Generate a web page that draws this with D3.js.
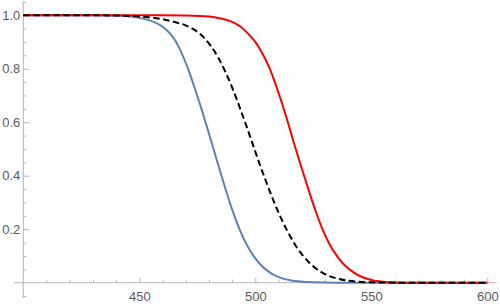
<!DOCTYPE html>
<html><head><meta charset="utf-8">
<script src="https://cdn.jsdelivr.net/npm/d3@7"></script>
<style>
html,body{margin:0;padding:0;background:#fff;}
svg{display:block;}
</style>
</head><body>
<svg id="chart" width="500" height="307"></svg>
<script>
// ---- data ----
const blueX = [400,430,440,445,450,455,459,462,465,468,471,474,477,480,482,484,487,490,493,496,499,502,505,508,511,515,520,525,535,560,600];
const blueY = [1,0.9995,0.998,0.996,0.99,0.979,0.963,0.943,0.912,0.863,0.8,0.724,0.644,0.558,0.50,0.441,0.355,0.274,0.204,0.147,0.103,0.07,0.046,0.029,0.018,0.009,0.0035,0.0013,0.0002,0,0];

const redX = [400,460,470,480,485,490,494,497,500,503,506,508,510,513,517,520,523,526,529,532,535,538,541,545,550,555,560,570,600];
const redY = [1,1,0.999,0.995,0.988,0.975,0.955,0.93,0.9,0.858,0.805,0.76,0.71,0.63,0.512,0.428,0.346,0.268,0.199,0.144,0.102,0.07,0.047,0.025,0.01,0.0035,0.0012,0.0002,0];

const blackX = [400,430,440,450,460,465,470,474,478,481,484,487,490,493,496,499,502,505,508,511,514,517,520,523,526,530,535,540,545,550,560,600];
const blackY = [1,0.9995,0.999,0.995,0.985,0.975,0.962,0.944,0.915,0.883,0.842,0.79,0.73,0.662,0.59,0.515,0.44,0.37,0.303,0.243,0.19,0.144,0.107,0.077,0.054,0.032,0.016,0.0075,0.0033,0.0013,0.0002,0];

const xMajorTicks = [450,500,550,600];
const xMinorTicks = [410,420,430,440,460,470,480,490,510,520,530,540,560,570,580,590];
const yMajorTicks = [0.2,0.4,0.6,0.8,1.0];
const yMinorTicks = [-0.05,0.05,0.1,0.15,0.25,0.3,0.35,0.45,0.5,0.55,0.65,0.7,0.75,0.85,0.9,0.95,1.05];
const xAxisExtent = [396,604];
const yAxisExtent = [-0.057,1.052];

// ---- drawing ----
const svg = d3.select("#chart");
const x = d3.scaleLinear().domain([400,600]).range([23.3,487.3]);
const y = d3.scaleLinear().domain([0,1]).range([282.7,15.2]);
const axisColor = "#b5b5b5";

// axis lines
svg.append("line")
  .attr("x1", x(xAxisExtent[0])).attr("x2", x(xAxisExtent[1]))
  .attr("y1", y(0)).attr("y2", y(0))
  .attr("stroke", axisColor).attr("stroke-width", 1);
svg.append("line")
  .attr("x1", x(400)).attr("x2", x(400))
  .attr("y1", y(yAxisExtent[0])).attr("y2", y(yAxisExtent[1]))
  .attr("stroke", axisColor).attr("stroke-width", 1);

function styleAxis(g){
  g.select(".domain").remove();
  g.selectAll(".tick line").attr("stroke", axisColor);
}

svg.append("g").attr("transform", `translate(0,${y(0)})`)
  .call(d3.axisBottom(x).tickValues(xMinorTicks).tickSize(-3).tickFormat(""))
  .call(styleAxis);
svg.append("g").attr("transform", `translate(0,${y(0)})`)
  .call(d3.axisBottom(x).tickValues(xMajorTicks).tickSize(-5).tickPadding(9).tickFormat(d3.format("d")))
  .call(styleAxis);

svg.append("g").attr("transform", `translate(${x(400)},0)`)
  .call(d3.axisLeft(y).tickValues(yMinorTicks).tickSize(-3).tickFormat(""))
  .call(styleAxis);
svg.append("g").attr("transform", `translate(${x(400)},0)`)
  .call(d3.axisLeft(y).tickValues(yMajorTicks).tickSize(-6).tickPadding(3).tickFormat(d3.format(".1f")))
  .call(styleAxis);

svg.selectAll(".tick text").attr("font-family", "Liberation Sans, Arial, sans-serif").attr("font-size", 13).attr("fill", "#5a5a5a");

const line = d3.line().x(d => x(d[0])).y(d => y(d[1])).curve(d3.curveMonotoneX);
const series = [
  {xs: blueX, ys: blueY, color: "#5e81b5", dash: null},
  {xs: redX, ys: redY, color: "#ff0000", dash: null},
  {xs: blackX, ys: blackY, color: "#000000", dash: "6.5,3.5"}
];
series.forEach(s => {
  svg.append("path")
    .datum(s.xs.map((v,i) => [v, s.ys[i]]))
    .attr("d", line)
    .attr("fill", "none")
    .attr("stroke", s.color)
    .attr("stroke-width", 2)
    .attr("stroke-dasharray", s.dash)
    .attr("stroke-linejoin", "round");
});
</script>
</body></html>
